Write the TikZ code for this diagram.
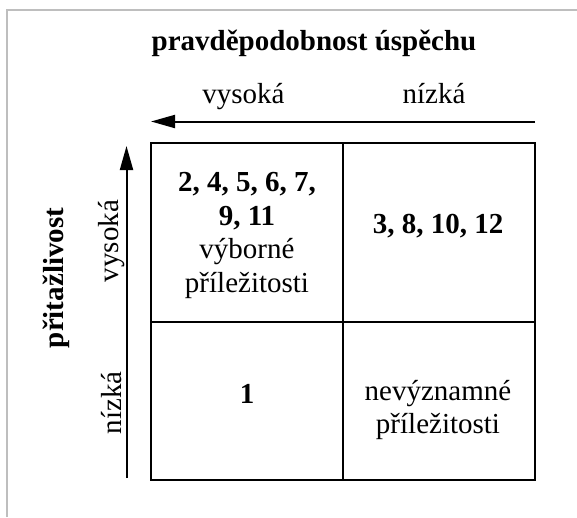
\documentclass[tikz,border=0pt]{standalone}
\usepackage{fontspec}
\setmainfont{Liberation Serif}
\usetikzlibrary{arrows.meta}
\definecolor{framegray}{RGB}{190,190,190}
\begin{document}
\begin{tikzpicture}[x=1pt,y=-1pt,
  cell/.style={draw,line width=2pt,inner sep=0pt,minimum width=192pt},
  lbl/.style={anchor=base,inner sep=0pt,font=\fontsize{29}{33}\selectfont},
  blbl/.style={anchor=base,inner sep=0pt,font=\fontsize{29}{33}\selectfont\bfseries},
  axis/.style={line width=2pt,-{Triangle[length=24pt,width=13pt]}}]
\useasboundingbox (0,0) rectangle (577,517);
\draw[line width=2pt,framegray] (7,517) -- (7,10) -- (577,10);
% cells
\node[cell,minimum height=179pt] (c11) at (247,232.5) {};
\node[cell,minimum height=179pt] (c12) at (439,232.5) {};
\node[cell,minimum height=158pt] (c21) at (247,401) {};
\node[cell,minimum height=158pt] (c22) at (439,401) {};
% cell texts
\node[blbl] (t1) at (247,191.7) {2, 4, 5, 6, 7,};
\node[blbl] (t2) at (247,225) {9, 11};
\node[lbl] (t3) at (247,258) {výborné};
\node[lbl] (t4) at (247,292) {příležitosti};
\node[blbl] (t5) at (438,233) {3, 8, 10, 12};
\node[blbl] (t6) at (247,403) {1};
\node[lbl] (t7) at (438,400) {nevýznamné};
\node[lbl] (t8) at (438,433) {příležitosti};
% axis labels
\node[blbl] (title) at (314,50) {pravděpodobnost úspěchu};
\node[lbl] (hhigh) at (243.5,103) {vysoká};
\node[lbl] (hlow) at (434,103) {nízká};
\node[blbl,rotate=90] (vtitle) at (63,278) {přitažlivost};
\node[lbl,rotate=90] (vhigh) at (118,241) {vysoká};
\node[lbl,rotate=90] (vlow) at (121,403) {nízká};
% arrows
\coordinate (hs) at (535,121.5);
\coordinate (he) at (151,121.5);
\coordinate (vs) at (126.5,478);
\coordinate (ve) at (126.5,146);
\draw[axis] (hs) -- (he);
\draw[axis] (vs) -- (ve);
\end{tikzpicture}
\end{document}
